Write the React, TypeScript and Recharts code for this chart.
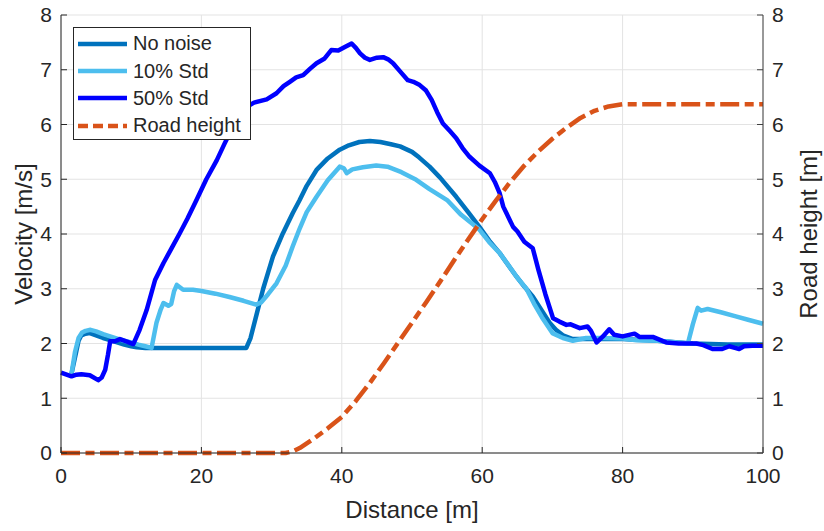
import React from 'react';
import { LineChart, Line, XAxis, YAxis, CartesianGrid, Legend } from 'recharts';

// Distance [m] / velocity [m/s] samples
const noNoiseDist = [1.5, 2.0, 2.5, 2.9, 3.5, 4.1, 5, 6, 7, 8, 9, 10, 10.8, 12, 15, 20, 26.4, 27, 27.9, 28.8, 30.2, 31.6, 33, 34, 35, 36.4, 38, 39.7, 41, 42.5, 44, 45.5, 47, 48.3, 50, 51, 52.5, 54, 56.3, 58, 59.6, 61, 62.5, 64, 64.9, 66, 67.2, 68.5, 69.6, 70.5, 71.5, 72.9, 75, 78, 80, 82, 85, 88, 90, 95, 100];
const noNoiseVel = [1.45, 1.75, 2.05, 2.15, 2.18, 2.19, 2.15, 2.1, 2.06, 2.02, 1.98, 1.95, 1.93, 1.92, 1.92, 1.92, 1.92, 2.1, 2.55, 3.0, 3.59, 4.01, 4.38, 4.62, 4.88, 5.17, 5.38, 5.54, 5.62, 5.68, 5.7, 5.68, 5.64, 5.6, 5.5, 5.4, 5.23, 5.03, 4.68, 4.4, 4.13, 3.88, 3.65, 3.38, 3.22, 3.04, 2.86, 2.6, 2.38, 2.25, 2.15, 2.08, 2.08, 2.08, 2.08, 2.07, 2.05, 2.02, 2.0, 1.98, 1.98];

const std10Dist = [1.5, 2.0, 2.5, 3.0, 3.5, 4.2, 5, 6, 7, 8, 9, 10, 11, 12, 12.9, 13.6, 14.2, 14.6, 15.3, 15.7, 16.1, 16.5, 17.4, 18.8, 20, 22, 24, 26, 27.8, 28.5, 29.5, 30.7, 32, 33, 34, 35, 36.4, 38, 39.7, 40.3, 40.7, 41.5, 43, 44.9, 46.5, 48.5, 50.6, 52.5, 55, 57, 59.6, 61, 62.5, 63.9, 65, 66.3, 67.5, 68.5, 70, 71.5, 72.9, 74.8, 77, 80, 82, 85, 89.3, 90, 90.7, 91.2, 92.1, 94, 96, 98, 100];
const std10Vel = [1.45, 1.85, 2.1, 2.2, 2.23, 2.25, 2.22, 2.17, 2.13, 2.09, 2.05, 2.02, 1.98, 1.95, 1.92, 2.38, 2.62, 2.74, 2.69, 2.72, 2.95, 3.07, 2.98, 2.98, 2.96, 2.91, 2.85, 2.78, 2.71, 2.75, 2.9, 3.1, 3.42, 3.77, 4.1, 4.4, 4.68, 4.98, 5.23, 5.2, 5.11, 5.18, 5.22, 5.25, 5.23, 5.13, 4.99, 4.82, 4.62, 4.35, 4.08, 3.85, 3.65, 3.4, 3.2, 3.0, 2.7, 2.48, 2.19, 2.1, 2.05, 2.1, 2.1, 2.09, 2.06, 2.05, 2.0, 2.35, 2.65, 2.6, 2.63, 2.57, 2.5, 2.43, 2.36];

const std50Dist = [0, 1.5, 2.2, 2.9, 4.1, 5.3, 5.8, 6.3, 6.7, 7, 7.7, 8.4, 9.5, 10.3, 11.2, 12.2, 13.4, 14.6, 15.8, 16.9, 18, 19.3, 20.7, 22.2, 23.3, 24.5, 25.5, 26.4, 27.5, 29.3, 30.7, 31.7, 32.6, 33.5, 34.5, 35.5, 36.4, 37.5, 38.5, 39.5, 40.5, 41.4, 42, 42.6, 43.3, 44, 45, 45.9, 46.6, 47.3, 48.3, 49.4, 50.2, 51.1, 52, 52.8, 53.6, 54.4, 55.4, 56.3, 57.2, 58.2, 59.6, 61.1, 61.8, 62.5, 63, 64.4, 65, 66, 67.2, 68, 69, 70.1, 71, 72, 72.6, 73.9, 75, 75.5, 76.3, 77.2, 78.1, 78.8, 80, 81.7, 82.4, 84.3, 86.2, 88, 90.5, 91.5, 92.8, 94.2, 95.2, 96, 96.6, 97.3, 98.5, 100];
const std50Vel = [1.47, 1.4, 1.43, 1.44, 1.42, 1.33, 1.38, 1.52, 1.8, 2.04, 2.04, 2.08, 2.03, 1.99, 2.25, 2.61, 3.16, 3.47, 3.75, 4.01, 4.28, 4.62, 5.0, 5.35, 5.65, 5.96, 6.17, 6.32, 6.4, 6.46, 6.57, 6.7, 6.78, 6.86, 6.9, 7.02, 7.12, 7.2, 7.36, 7.35, 7.42, 7.48, 7.4, 7.3, 7.22, 7.18, 7.22, 7.23, 7.19, 7.12, 6.97, 6.81, 6.78, 6.72, 6.62, 6.45, 6.22, 6.02, 5.88, 5.75, 5.57, 5.41, 5.25, 5.11, 4.95, 4.74, 4.5, 4.13, 4.05, 3.86, 3.74, 3.35, 2.9, 2.46, 2.4, 2.34, 2.35, 2.28, 2.31, 2.23, 2.02, 2.13, 2.26, 2.16, 2.13, 2.18, 2.12, 2.12, 2.02, 2.0, 2.0, 1.97, 1.9, 1.9, 1.95, 1.92, 1.9, 1.95, 1.96, 1.96];

// Road height [m]
const roadDist = [0, 10, 20, 30, 32, 33, 34, 36, 38, 40, 42, 44, 46, 48, 50, 52, 54, 56, 58, 60, 62, 64, 66, 68, 70, 72, 74, 76, 78, 80, 90, 100];
const roadHeight = [0, 0, 0, 0, 0, 0.03, 0.09, 0.26, 0.45, 0.66, 0.95, 1.28, 1.64, 2.01, 2.38, 2.75, 3.13, 3.52, 3.9, 4.27, 4.62, 4.95, 5.25, 5.51, 5.74, 5.94, 6.12, 6.25, 6.33, 6.37, 6.37, 6.37];

const xTicks = [0, 20, 40, 60, 80, 100];
const yTicks = [0, 1, 2, 3, 4, 5, 6, 7, 8];

const zip = (xs: number[], ys: number[]) => xs.map((d, i) => ({ d, v: ys[i] }));

const series = [
  { name: 'No noise', color: '#0072BD', data: zip(noNoiseDist, noNoiseVel), axis: 0, dash: undefined, legendDash: undefined },
  { name: '10% Std', color: '#4DBEEE', data: zip(std10Dist, std10Vel), axis: 0, dash: undefined, legendDash: undefined },
  { name: '50% Std', color: '#0000FF', data: zip(std50Dist, std50Vel), axis: 0, dash: undefined, legendDash: undefined },
  { name: 'Road height', color: '#D95319', data: zip(roadDist, roadHeight), axis: 'right', dash: '19 5.5 9 5.5', legendDash: '10 5' },
];

const FONT = '"Liberation Sans", Arial, Helvetica, sans-serif';
const INK = '#262626';
const tickStyle = { fill: INK, fontSize: 21, fontFamily: FONT };

const yTitle = (text: string, dx: number) => (props: any) => {
  const vb = props.viewBox;
  const x = vb.x + dx;
  const y = vb.y + vb.height / 2;
  return (
    <text x={x} y={y} transform={`rotate(-90, ${x}, ${y})`} textAnchor="middle" dominantBaseline="central"
      fill={INK} fontSize={24} fontFamily={FONT}>
      {text}
    </text>
  );
};

const renderLegend = () => (
  <div style={{ border: `1px solid ${INK}`, background: '#fff', boxSizing: 'border-box', width: 178, height: 113, paddingTop: 2, fontFamily: FONT }}>
    {series.map(s => (
      <div key={s.name} style={{ display: 'flex', alignItems: 'center', height: 27.4 }}>
        <svg width={49} height={8} style={{ marginLeft: 4, marginRight: 6 }}>
          <line x1={0} y1={4} x2={49} y2={4} stroke={s.color} strokeWidth={4.5} strokeDasharray={s.legendDash} />
        </svg>
        <span style={{ fontSize: 20, color: INK, whiteSpace: 'nowrap' }}>{s.name}</span>
      </div>
    ))}
  </div>
);

export default function App() {
  return (
    <div style={{ position: 'absolute', left: 0, top: 0, width: 824, height: 531, background: '#fff' }}>
      <LineChart width={824} height={531} margin={{ top: 15, right: 0, bottom: 0, left: 0 }}>
        <CartesianGrid stroke="#e3e3e3" strokeWidth={1} />
        <XAxis dataKey="d" type="number" domain={[0, 100]} ticks={xTicks} height={78}
          stroke={INK} tick={tickStyle} tickSize={-6} tickMargin={21}
          label={{ value: 'Distance [m]', position: 'insideBottom', offset: 13, fill: INK, fontSize: 24, fontFamily: FONT }} />
        <XAxis xAxisId="top" orientation="top" type="number" domain={[0, 100]} ticks={xTicks} height={0}
          stroke="#404040" tickSize={-6} tickFormatter={() => ''} />
        <YAxis type="number" domain={[0, 8]} ticks={yTicks} width={61} stroke={INK} tick={tickStyle}
          tickSize={-6} tickMargin={15} label={{ content: yTitle('Velocity [m/s]', 23) }} />
        <YAxis yAxisId="right" orientation="right" type="number" domain={[0, 8]} ticks={yTicks} width={61}
          stroke="#404040" tick={tickStyle} tickSize={-6} tickMargin={15}
          label={{ content: yTitle('Road height [m]', 45) }} />
        {series.map(s => (
          <Line key={s.name} name={s.name} data={s.data} dataKey="v" yAxisId={s.axis} type="linear"
            stroke={s.color} strokeWidth={4.5} strokeDasharray={s.dash} dot={false} activeDot={false}
            strokeLinejoin="round" isAnimationActive={false} />
        ))}
        <Legend content={renderLegend} layout="vertical" align="center" verticalAlign="middle"
          wrapperStyle={{ left: 73, top: 27, width: 178, height: 113 }} />
      </LineChart>
    </div>
  );
}
